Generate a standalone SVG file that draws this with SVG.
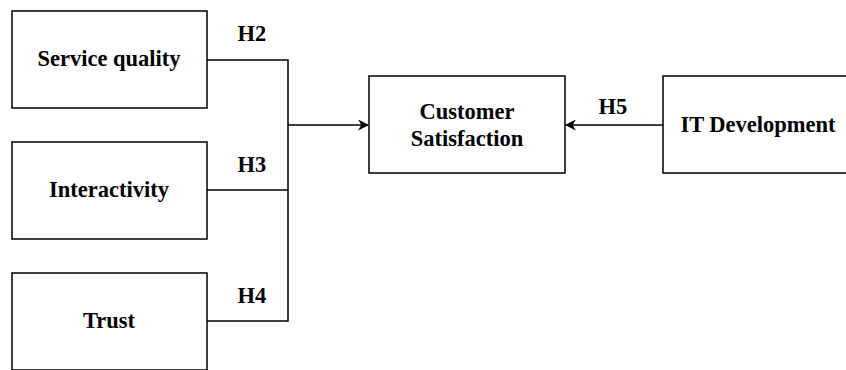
<svg xmlns="http://www.w3.org/2000/svg" width="846" height="370" viewBox="0 0 846 370">
<defs>
<style>
.box{fill:#fff;stroke:#000;stroke-width:1.5}
.t{font-family:"Liberation Serif","Times New Roman",serif;font-weight:bold;font-size:22.5px;text-anchor:middle;fill:#000}
.c{fill:none;stroke:#000;stroke-width:1.5}
</style>
<marker id="ah" viewBox="0 0 10 10" refX="9" refY="5" markerWidth="11" markerHeight="11" markerUnits="userSpaceOnUse" orient="auto">
<path d="M0,0 L10,5 L0,10 L3,5 Z" fill="#000"/>
</marker>
</defs>
<rect width="846" height="370" fill="#fff"/>
<g id="service-quality"><rect class="box" x="12" y="11" width="195" height="97"/><text class="t" x="109" y="66">Service quality</text></g>
<g id="interactivity"><rect class="box" x="12" y="142" width="195" height="97"/><text class="t" x="109" y="197">Interactivity</text></g>
<g id="trust"><rect class="box" x="12" y="273" width="195" height="97"/><text class="t" x="109" y="328">Trust</text></g>
<g id="customer-satisfaction"><rect class="box" x="369" y="76" width="196" height="97"/><text class="t" x="467" y="119">Customer</text><text class="t" x="467" y="146">Satisfaction</text></g>
<g id="it-development"><rect class="box" x="663" y="76" width="196" height="97"/><text class="t" x="758" y="132">IT Development</text></g>
<g id="connectors">
<path class="c" d="M207,60 H288 V321 H207"/>
<path class="c" d="M207,190 H288"/>
<path class="c" d="M288,125 H368" marker-end="url(#ah)"/>
<path class="c" d="M663,125 H566" marker-end="url(#ah)"/>
<text class="t" x="252" y="41">H2</text>
<text class="t" x="252" y="172">H3</text>
<text class="t" x="252" y="303">H4</text>
<text class="t" x="613" y="114">H5</text>
</g>
</svg>
